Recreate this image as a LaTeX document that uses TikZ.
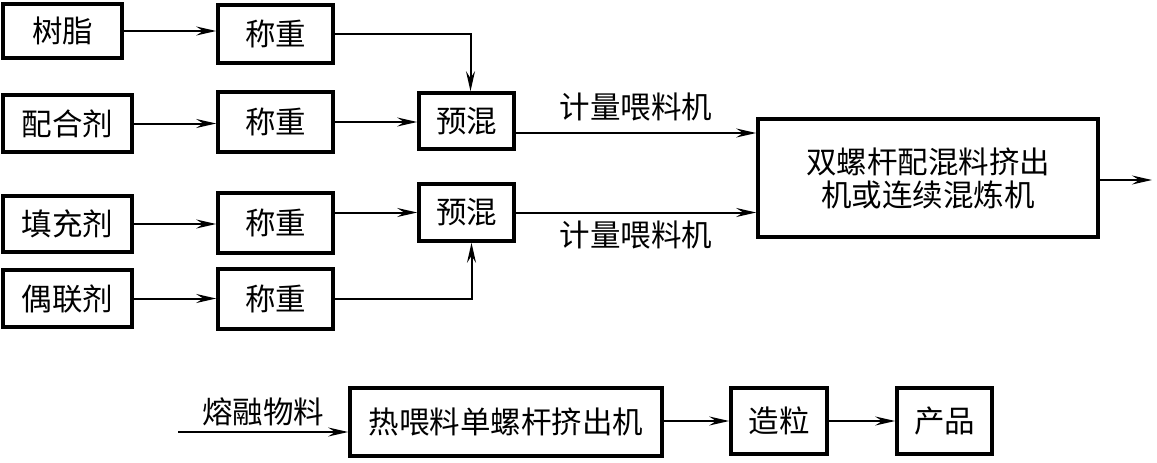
\documentclass[tikz,border=0pt]{standalone}
\usepackage{fontspec}
\newfontfamily\cjk{Noto Sans CJK SC}
\usetikzlibrary{arrows.meta}
\begin{document}
\begin{tikzpicture}[x=1pt,y=-1pt,
  box/.style={draw,line width=3.6pt,inner sep=0pt,font=\cjk\fontsize{30.5}{33}\selectfont},
  lbl/.style={inner sep=0pt,font=\cjk\fontsize{30.5}{33}\selectfont},
  conn/.style={line width=2pt,-{Stealth[length=20pt,width=9pt,inset=7pt]}},
  plain/.style={line width=2pt}]
\useasboundingbox (0,0) rectangle (1157,463);
% left column
\node[box,minimum width=119pt,minimum height=54pt] (A1) at (62.5,31) {树脂};
\node[box,minimum width=129pt,minimum height=57pt] (A2) at (67.5,123.5) {配合剂};
\node[box,minimum width=129pt,minimum height=56pt] (A3) at (67.5,224) {填充剂};
\node[box,minimum width=129pt,minimum height=57pt] (A4) at (67.5,298.5) {偶联剂};
% weighing
\node[box,minimum width=115pt,minimum height=58pt] (W1) at (275.5,34) {称重};
\node[box,minimum width=115pt,minimum height=60pt] (W2) at (275.5,122) {称重};
\node[box,minimum width=115pt,minimum height=60pt] (W3) at (275.5,223) {称重};
\node[box,minimum width=115pt,minimum height=60pt] (W4) at (275.5,299) {称重};
% premix
\node[box,minimum width=95pt,minimum height=56pt] (P1) at (466.5,121) {预混};
\node[box,minimum width=95pt,minimum height=57pt] (P2) at (466.5,212.5) {预混};
% big box
\node[box,minimum width=340pt,minimum height=118pt,align=center] (Big) at (928,178) {双螺杆配混料挤出\\机或连续混炼机};
\coordinate (out) at (1152,180);
% bottom row
\node[box,minimum width=312pt,minimum height=68pt] (B1) at (506,422) {热喂料单螺杆挤出机};
\node[box,minimum width=96pt,minimum height=66pt] (B2) at (779,421) {造粒};
\node[box,minimum width=95pt,minimum height=66pt] (B3) at (944.5,421) {产品};
\coordinate (in) at (178,432);
% labels
\node[lbl] (L1) at (636,107) {计量喂料机};
\node[lbl] (L2) at (636,235) {计量喂料机};
\node[lbl] (L3) at (263,412) {熔融物料};
% connectors
\draw[conn] (A1.east) -- (A1.east -| W1.west);
\draw[conn] (A2.east) -- (A2.east -| W2.west);
\draw[conn] (A3.east) -- (A3.east -| W3.west);
\draw[conn] (A4.east) -- (A4.east -| W4.west);
\draw[conn] (W1.east) -| ([xshift=4pt]P1.north);
\draw[conn] (W2.east) -- (W2.east -| P1.west);
\draw[conn] (W3.east |- P2.west) -- (P2.west);
\draw[conn] (W4.east) -| ([xshift=5pt]P2.south);
\draw[conn] ([yshift=-12pt]P1.east) -- ([yshift=-12pt]P1.east -| Big.west);
\draw[conn] (P2.east) -- (P2.east -| Big.west);
\draw[conn] (Big.east |- out) -- (out);
\draw[conn] (in) -- (in -| B1.west);
\draw[conn] (B1.east |- B2.west) -- (B2.west);
\draw[conn] (B2.east) -- (B3.west);
\end{tikzpicture}
\end{document}
